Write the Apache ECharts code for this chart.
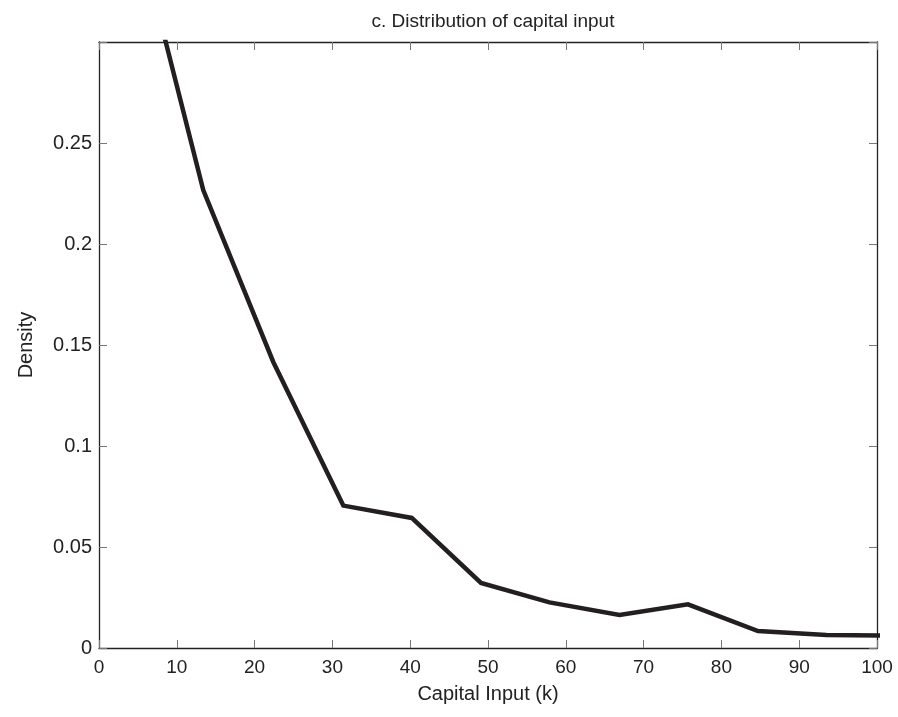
<!DOCTYPE html>
<html>
<head>
<meta charset="utf-8">
<script src="https://cdn.jsdelivr.net/npm/echarts@6/dist/echarts.min.js"></script>
<style>html,body{margin:0;padding:0;background:#fff}#c{width:898px;height:717px}</style>
</head>
<body>
<div id="c"></div>
<script>
const capital = [4.5, 13.4, 22.4, 31.4, 40.2, 49.1, 57.9, 66.9, 75.7, 84.7, 93.5, 102.4];
const density = [0.362, 0.2267, 0.1416, 0.0705, 0.0644, 0.0322, 0.0226, 0.0163, 0.0216, 0.0084, 0.0064, 0.0061];
const xTicks = [0, 10, 20, 30, 40, 50, 60, 70, 80, 90, 100];
const yTicks = [0, 0.05, 0.1, 0.15, 0.2, 0.25];

const FONT = 'Liberation Sans, Arial, sans-serif';
const chart = echarts.init(document.getElementById('c'));
const tickStyle = {show: true, inside: true, length: 8, lineStyle: {color: '#777', width: 1}};
const axisLine = {show: true, onZero: false, lineStyle: {color: '#222', width: 1.3}};
chart.setOption({
  animation: false,
  backgroundColor: '#fff',
  title: {
    text: 'c. Distribution of capital input',
    left: 488, top: 7, textAlign: 'center',
    textStyle: {fontFamily: FONT, fontSize: 19, fontWeight: 'normal', color: '#222'}
  },
  grid: {left: 99, right: 21, top: 42, bottom: 69, containLabel: false},
  xAxis: [{
    type: 'value', min: 0, max: 100, interval: 10,
    name: 'Capital Input (k)', nameLocation: 'middle', nameGap: 36,
    nameTextStyle: {fontFamily: FONT, fontSize: 20, color: '#222'},
    axisLine: axisLine, axisTick: tickStyle, splitLine: {show: false},
    axisLabel: {fontFamily: FONT, fontSize: 19, color: '#222', margin: 10,
      formatter: v => xTicks.includes(v) ? String(v) : ''}
  }, {
    type: 'value', position: 'top', min: 0, max: 100, interval: 10,
    axisLine: axisLine, axisTick: tickStyle, axisLabel: {show: false}, splitLine: {show: false}
  }],
  yAxis: [{
    type: 'value', min: 0, max: 0.3, interval: 0.05,
    name: 'Density', nameLocation: 'middle', nameGap: 63,
    nameTextStyle: {fontFamily: FONT, fontSize: 20, color: '#222'},
    axisLine: axisLine, axisTick: tickStyle, splitLine: {show: false},
    axisLabel: {fontFamily: FONT, fontSize: 20, color: '#222', margin: 7,
      formatter: v => {
        const t = yTicks.find(y => Math.abs(y - v) < 1e-9);
        return t === undefined ? '' : String(t);
      }}
  }, {
    type: 'value', position: 'right', min: 0, max: 0.3, interval: 0.05,
    axisLine: axisLine, axisTick: tickStyle, axisLabel: {show: false}, splitLine: {show: false}
  }],
  series: [{
    type: 'line',
    data: capital.map((x, i) => [x, density[i]]),
    showSymbol: false, symbol: 'none', clip: true,
    lineStyle: {color: '#231f20', width: 4.5, join: 'miter'}
  }]
});
</script>
</body>
</html>
